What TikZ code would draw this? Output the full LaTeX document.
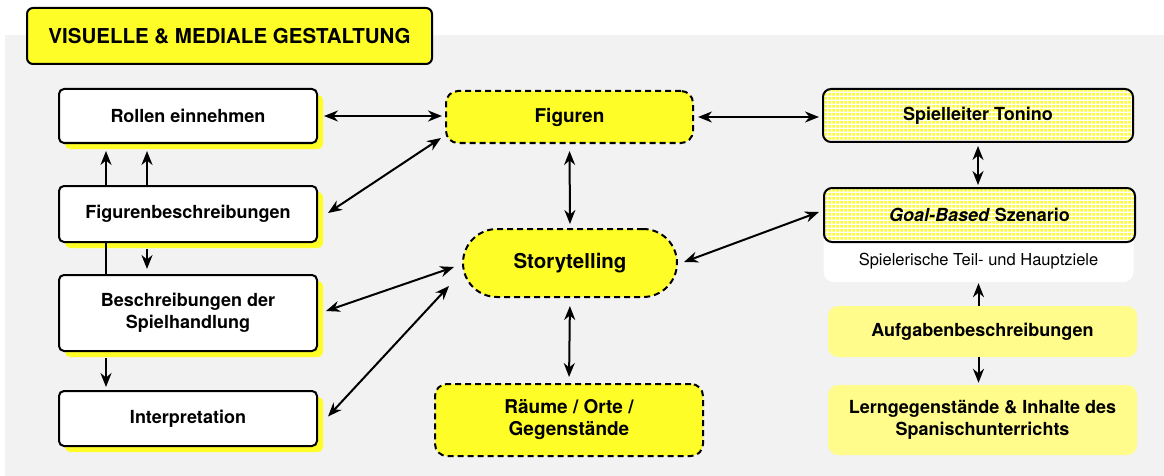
\documentclass[tikz,border=0pt]{standalone}
\usepackage{fontspec}
\setmainfont{TeX Gyre Heros}
\usepackage{xcolor}
\definecolor{signalyellow}{RGB}{255,253,40}
\definecolor{paleyellow}{RGB}{255,252,140}
\definecolor{bggray}{RGB}{242,242,242}
\usepackage{tikz}
\usetikzlibrary{arrows.meta,positioning,shadows,patterns.meta}

\tikzdeclarepattern{name=halftone,type=uncolored,
  bottom left={(0pt,0pt)},top right={(4pt,4pt)},tile size={(4pt,4pt)},
  code={\fill (0.4pt,0.4pt) rectangle (3.6pt,3.6pt);}}

\begin{document}
\begin{tikzpicture}[x=1pt,y=-1pt,
      titel/.style={draw,line width=2pt,fill=signalyellow,rounded corners=6pt,
                    minimum width=405pt,minimum height=56pt,
                    font=\fontsize{20.5}{24}\selectfont\bfseries},
      box/.style={draw,line width=2pt,fill=white,rounded corners=5pt,
                  minimum width=258pt,align=center,
                  font=\fontsize{18}{22}\selectfont\bfseries,
                  drop shadow={shadow xshift=6pt,shadow yshift=-6pt,
                               fill=signalyellow,opacity=1}},
      kern/.style={draw,line width=2pt,dash pattern=on 6pt off 4pt,
                   fill=signalyellow,rounded corners=12pt,align=center,
                   font=\fontsize{19}{22}\selectfont\bfseries},
      raster/.style={draw,line width=2pt,rounded corners=8pt,
                     preaction={fill=white},pattern=halftone,
                     pattern color=signalyellow,
                     font=\fontsize{18}{22}\selectfont\bfseries},
      ziel/.style={fill=white,rounded corners=10pt,minimum width=310pt},
      aufg/.style={fill=paleyellow,rounded corners=10pt,minimum width=309pt,
                   align=center,font=\fontsize{18}{22}\selectfont\bfseries},
      arr/.style={line width=2pt,-{Stealth[length=14pt,width=11pt]}},
      darr/.style={line width=2pt,{Stealth[length=14pt,width=11pt]}-{Stealth[length=14pt,width=11pt]}}]
  \useasboundingbox (0,0) rectangle (1164,476);
  \fill[bggray] (5,35) rectangle (1164,476);

  \node[titel] (titel) at (229.5,36) {VISUELLE \& MEDIALE GESTALTUNG};

  % linke Spalte
  \node[box,minimum height=54pt] (rollen) at (188,116) {Rollen einnehmen};
  \node[box,minimum height=56pt] (figbeschr) at (188,214) {Figurenbeschreibungen};
  \node[box,minimum height=76pt] (handlung) at (188,313) {Beschreibungen der\\Spielhandlung};
  \node[box,minimum height=55pt] (interp) at (188,418.5) {Interpretation};

  % Mitte
  \node[kern,minimum width=247pt,minimum height=52pt] (figuren) at (569.5,117) {Figuren};
  \node[kern,minimum width=214pt,minimum height=68pt,rounded corners=34pt,
        font=\fontsize{20.5}{24}\selectfont\bfseries] (story) at (570,263) {Storytelling};
  \node[kern,minimum width=268pt,minimum height=72pt] (raeume) at (569,420) {Räume / Orte /\\Gegenstände};

  % rechte Spalte
  \node[ziel,minimum height=94pt] (ziele) at (978.5,235) {};
  \node[font=\fontsize{16.5}{20}\selectfont,anchor=base] (zieltext) at (978.5,265) {Spielerische Teil- und Hauptziele};
  \node[raster,minimum width=310pt,minimum height=53pt] (tonino) at (978,115.5) {Spielleiter Tonino};
  \node[raster,minimum width=311pt,minimum height=54pt] (goal) at (979.5,215) {\textit{Goal-Based} Szenario};
  \node[aufg,minimum height=51pt] (aufgaben) at (982.5,331.5) {Aufgabenbeschreibungen};
  \node[aufg,minimum height=70pt] (lern) at (982.5,420) {Lerngegenstände \& Inhalte des\\Spanischunterrichts};

  % Pfeile links
  \draw[arr,shorten >=7pt] ([xshift=48pt]figbeschr.north west) -- ([xshift=48pt]rollen.south west);
  \draw[arr,shorten >=7pt] ([xshift=89pt]figbeschr.north west) -- ([xshift=89pt]rollen.south west);
  \draw[arr,shorten <=6pt,shorten >=5pt] ([xshift=89pt]figbeschr.south west) -- ([xshift=89pt]handlung.north west);
  \draw[line width=2pt] ([xshift=48pt]figbeschr.south west) -- ([xshift=48pt]handlung.north west);
  \draw[arr,shorten <=6pt,shorten >=3pt] ([xshift=48pt]handlung.south west) -- ([xshift=48pt]interp.north west);

  \draw[darr,shorten <=6pt,shorten >=3pt] (rollen.east) -- (rollen.east -| figuren.west);
  \draw[darr] ([shift={(10,-1)}]figbeschr.east) -- ([shift={(-4,-6)}]figuren.south west);
  \draw[darr] ([shift={(8,-2)}]handlung.east) -- ([shift={(-8,4)}]story.west);
  \draw[darr] ([shift={(10,-2)}]interp.east) -- ([shift={(-13,-12)}]story.south west);

  % Pfeile Mitte
  \draw[darr,shorten <=7pt,shorten >=4pt] (figuren.south) -- (story.north);
  \draw[darr,shorten <=8pt,shorten >=6pt] (story.south) -- (raeume.north);
  \draw[darr,shorten <=4pt,shorten >=3pt] (figuren.east) -- (figuren.east -| tonino.west);
  \draw[darr] ([shift={(6,-1)}]story.east) -- ([shift={(-4,-3)}]goal.west);

  % Pfeile rechts
  \draw[darr,shorten <=3pt,shorten >=2pt] (tonino.south) -- (tonino.south |- goal.north);
  \draw[arr,shorten >=1pt] (aufgaben.north -| ziele.south) -- (ziele.south);
  \draw[arr,shorten >=2pt] (aufgaben.south -| ziele.south) -- (lern.north -| ziele.south);
\end{tikzpicture}
\end{document}
